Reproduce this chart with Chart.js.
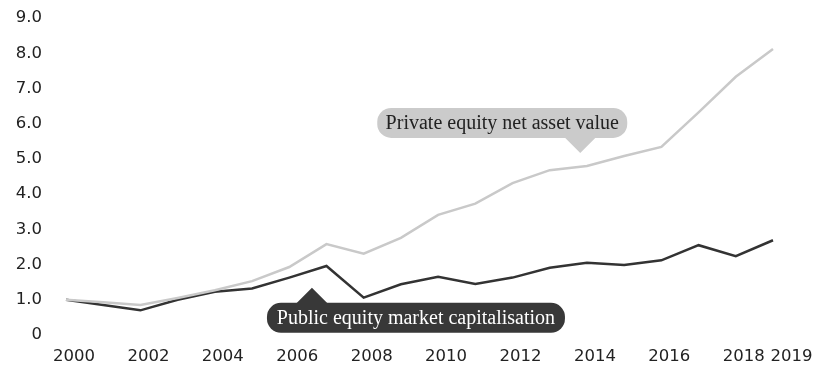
<!DOCTYPE html>
<html>
<head>
<meta charset="utf-8">
<script src="https://cdn.jsdelivr.net/npm/chart.js@4"></script>
<style>
  html, body { margin: 0; padding: 0; background: #fff; }
  canvas { display: block; }
</style>
</head>
<body>
<canvas id="lineChart" width="817" height="368"></canvas>
<script>
// years on the x axis
const years = ['2000','2001','2002','2003','2004','2005','2006','2007','2008','2009',
               '2010','2011','2012','2013','2014','2015','2016','2017','2018','2019'];
// years that get a label
const labelledYears = ['2000','2002','2004','2006','2008','2010','2012','2014','2016','2018','2019'];

// index, 2000 = 1.0
const privateEquity = [1.0, 0.93, 0.85, 1.05, 1.27, 1.53, 1.93, 2.58, 2.31, 2.76,
                       3.41, 3.73, 4.31, 4.68, 4.80, 5.08, 5.34, 6.32, 7.33, 8.12];
const publicEquity  = [1.0, 0.85, 0.70, 1.00, 1.23, 1.32, 1.63, 1.96, 1.06, 1.44,
                       1.65, 1.45, 1.63, 1.91, 2.05, 1.99, 2.12, 2.55, 2.24, 2.69];

const yTicks = [0, 1, 2, 3, 4, 5, 6, 7, 8, 9];

// callouts: text, anchor (year index / value) where the pointer tip sits
const callouts = [
  { text: 'Private equity net asset value', at: 13.82, value: 5.17, dir: 'down',
    bg: '#cbcbcb', color: '#222', left: -203, width: 250 },
  { text: 'Public equity market capitalisation', at: 6.61, value: 1.34, dir: 'up',
    bg: '#383838', color: '#fff', left: -45, width: 298 }
];

const calloutPlugin = {
  id: 'callouts',
  afterDatasetsDraw(chart) {
    const c = chart.ctx;
    const x = chart.scales.x, y = chart.scales.y;
    c.save();
    callouts.forEach(function(o) {
      const tx = x.getPixelForValue(o.at);
      const ty = y.getPixelForValue(o.value);
      const h = 30, tri = 15, half = 16;
      let top;
      c.fillStyle = o.bg;
      c.beginPath();
      if (o.dir === 'down') {
        top = ty - tri - h;
        c.moveTo(tx - half, top + h - 1);
        c.lineTo(tx + half, top + h - 1);
        c.lineTo(tx, ty);
      } else {
        top = ty + tri;
        c.moveTo(tx - half, top + 1);
        c.lineTo(tx + half, top + 1);
        c.lineTo(tx, ty);
      }
      c.closePath();
      c.fill();
      c.beginPath();
      c.roundRect(tx + o.left, top, o.width, h, 14);
      c.fill();
      c.fillStyle = o.color;
      c.font = '20px "Liberation Serif", serif';
      c.textAlign = 'center';
      c.textBaseline = 'middle';
      c.fillText(o.text, tx + o.left + o.width / 2, top + h / 2 + 1);
    });
    c.restore();
  }
};

const ctx = document.getElementById('lineChart').getContext('2d');
new Chart(ctx, {
  type: 'line',
  data: {
    labels: years,
    datasets: [{
      label: 'Private equity net asset value',
      data: privateEquity,
      borderColor: '#c9c9c9',
      borderWidth: 2.5,
      pointRadius: 0,
      tension: 0
    }, {
      label: 'Public equity market capitalisation',
      data: publicEquity,
      borderColor: '#333333',
      borderWidth: 2.5,
      pointRadius: 0,
      tension: 0
    }]
  },
  options: {
    responsive: false,
    animation: false,
    layout: { padding: { left: 15, right: 44, top: 18, bottom: 0 } },
    plugins: {
      legend: { display: false },
      tooltip: { enabled: false }
    },
    scales: {
      x: {
        offset: false,
        grid: { display: false, drawTicks: false },
        border: { display: false },
        afterFit: function(axis) {
          axis.paddingLeft = 0;
          axis.paddingRight = 0;
          axis.height = 33;
        },
        ticks: {
          autoSkip: false,
          maxRotation: 0,
          padding: 12,
          labelOffset: 8,
          color: '#222',
          font: { family: 'DejaVu Sans', size: 16.5 },
          callback: function(v) {
            const l = years[v];
            if (!labelledYears.includes(l)) return '';
            // last label sits a little further right
            return v === years.length - 1 ? '    ' + l : l;
          }
        }
      },
      y: {
        min: 0,
        max: 9,
        afterBuildTicks: function(axis) {
          axis.ticks = yTicks.map(function(v) { return { value: v }; });
        },
        afterFit: function(axis) {
          axis.paddingTop = 0;
          axis.paddingBottom = 0;
          axis.width = 51;
        },
        grid: { display: false, drawTicks: false },
        border: { display: false },
        ticks: {
          padding: 24,
          color: '#222',
          font: { family: 'DejaVu Sans', size: 16.5 },
          callback: function(v) { return v === 0 ? '0' : v.toFixed(1); }
        }
      }
    }
  },
  plugins: [calloutPlugin]
});
</script>
</body>
</html>
